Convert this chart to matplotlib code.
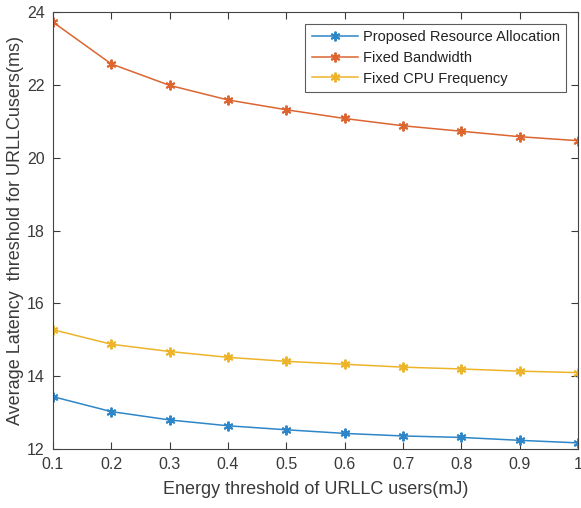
import matplotlib
matplotlib.use('Agg')
import matplotlib.pyplot as plt

energy = [0.1, 0.2, 0.3, 0.4, 0.5, 0.6, 0.7, 0.8, 0.9, 1.0]
proposed = [13.44, 13.03, 12.80, 12.64, 12.53, 12.43, 12.36, 12.32, 12.24, 12.17]
fixed_bw = [23.73, 22.58, 21.99, 21.59, 21.32, 21.08, 20.88, 20.73, 20.58, 20.47]
fixed_cpu = [15.28, 14.88, 14.68, 14.52, 14.41, 14.33, 14.25, 14.20, 14.14, 14.10]

x_ticks = [0.1, 0.2, 0.3, 0.4, 0.5, 0.6, 0.7, 0.8, 0.9, 1.0]
x_tick_labels = ['0.1', '0.2', '0.3', '0.4', '0.5', '0.6', '0.7', '0.8', '0.9', '1']
y_ticks = [12, 14, 16, 18, 20, 22, 24]

plt.rcParams['font.family'] = ['Liberation Sans', 'DejaVu Sans']
text_color = '#3a3a3a'

fig = plt.figure(figsize=(5.81, 5.08), dpi=100)
ax = fig.add_axes([0.091, 0.116, 0.904, 0.86])

# MATLAB-style asterisk markers
star = (6, 2, 0)
ax.plot(energy, proposed, color='#2E86C8', marker=star, markersize=7, markeredgewidth=1.4,
        linewidth=1.1, label='Proposed Resource Allocation')
ax.plot(energy, fixed_bw, color='#DC6530', marker=star, markersize=7, markeredgewidth=1.4,
        linewidth=1.1, label='Fixed Bandwidth')
ax.plot(energy, fixed_cpu, color='#EDB42A', marker=star, markersize=7, markeredgewidth=1.4,
        linewidth=1.1, label='Fixed CPU Frequency')

ax.set_xlim(0.1, 1.0)
ax.set_ylim(12, 24)
ax.set_xticks(x_ticks)
ax.set_xticklabels(x_tick_labels)
ax.set_yticks(y_ticks)
ax.tick_params(direction='in', top=True, right=True, length=5, width=0.8,
               labelsize=11.5, colors=text_color, pad=6)
for s in ax.spines.values():
    s.set_color('#444444')
    s.set_linewidth(0.8)

ax.set_xlabel('Energy threshold of URLLC users(mJ)', fontsize=13, color=text_color, labelpad=6)
ax.set_ylabel('Average Latency  threshold for URLLCusers(ms)', fontsize=13, color=text_color, labelpad=2)

leg = ax.legend(loc='upper right', fontsize=10.5, fancybox=False, edgecolor='#333333',
                borderaxespad=0.8, handlelength=3.2, handletextpad=0.3,
                labelspacing=0.45, borderpad=0.45)
leg.get_frame().set_linewidth(0.8)
for t in leg.get_texts():
    t.set_color('#222222')

fig.savefig('out.png', dpi=100)
